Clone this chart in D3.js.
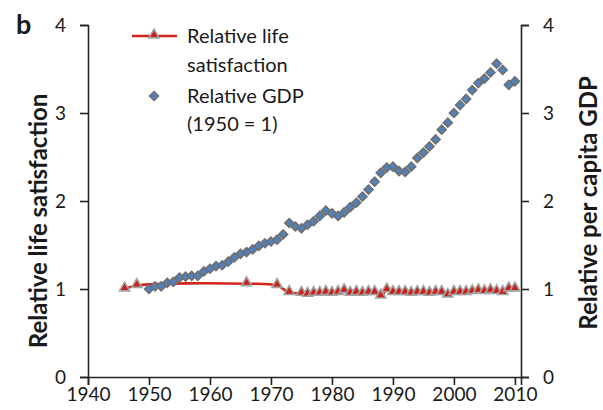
<!DOCTYPE html>
<html>
<head>
<meta charset="utf-8">
<script src="https://cdn.jsdelivr.net/npm/d3@7"></script>
<style>
  body { margin: 0; background: #fff; }
  svg text { font-family: Lato, "Open Sans", sans-serif; fill: #1a1a1a; }
</style>
</head>
<body>
<div id="chart"></div>
<script>
// life satisfaction (relative), survey years
const lifeYears = [1946, 1948, 1966, 1971, 1973,
  1975, 1976, 1977, 1978, 1979, 1980, 1981, 1982, 1983, 1984, 1985, 1986, 1987, 1988, 1989,
  1990, 1991, 1992, 1993, 1994, 1995, 1996, 1997, 1998, 1999, 2000, 2001, 2002, 2003, 2004,
  2005, 2006, 2007, 2008, 2009, 2010];
const lifeValues = [1.00, 1.04, 1.06, 1.04, 0.96,
  0.95, 0.94, 0.95, 0.95, 0.96, 0.95, 0.96, 0.98, 0.95, 0.96, 0.95, 0.96, 0.96, 0.92, 0.99,
  0.96, 0.96, 0.96, 0.95, 0.96, 0.96, 0.95, 0.96, 0.96, 0.93, 0.96, 0.96, 0.96, 0.97, 0.98,
  0.97, 0.98, 0.97, 0.96, 1.00, 1.00];

// relative per capita GDP (1950 = 1), 1950..2010
const gdpYears = d3.range(1950, 2011);
const gdpValues = [1.00, 1.03, 1.03, 1.07, 1.08, 1.13, 1.14, 1.15, 1.15, 1.20,
  1.23, 1.26, 1.27, 1.31, 1.36, 1.40, 1.42, 1.45, 1.49, 1.52,
  1.54, 1.56, 1.62, 1.75, 1.71, 1.69, 1.73, 1.77, 1.83, 1.89,
  1.86, 1.83, 1.87, 1.93, 1.98, 2.05, 2.13, 2.22, 2.32, 2.38,
  2.39, 2.34, 2.33, 2.39, 2.49, 2.55, 2.62, 2.70, 2.81, 2.89,
  3.00, 3.09, 3.16, 3.26, 3.34, 3.39, 3.46, 3.56, 3.49, 3.32, 3.36];

const xTicks = [1940, 1950, 1960, 1970, 1980, 1990, 2000, 2010];
const yTicks = [0, 1, 2, 3, 4];

const W = 603, H = 410;
const svg = d3.select("#chart").append("svg")
  .attr("width", W)
  .attr("height", H);

// scales
const x = d3.scaleLinear().domain([1940, 2011]).range([88, 521]);
const yL = d3.scaleLinear().domain([0, 4]).range([377, 25]);
const yR = d3.scaleLinear().domain([0, 4]).range([377, 25]);

// axes
const styleAxis = (g) => {
  g.select(".domain").attr("stroke", "#222").attr("stroke-width", 1.6);
  g.selectAll(".tick line").attr("stroke", "#222").attr("stroke-width", 1.6);
  g.selectAll(".tick text").style("font-size", "19px");
};

svg.append("g")
  .attr("transform", "translate(0," + yL(0) + ")")
  .call(d3.axisBottom(x).tickValues(xTicks).tickFormat(d3.format("d")).tickSizeOuter(0).tickSize(8).tickPadding(3))
  .call(styleAxis);

svg.append("g")
  .attr("transform", "translate(" + x(1940) + ",0)")
  .call(d3.axisLeft(yL).tickValues(yTicks).tickFormat(d3.format("d")).tickSizeOuter(0).tickSize(8).tickPadding(14))
  .call(styleAxis);

svg.append("g")
  .attr("transform", "translate(" + x(2011) + ",0)")
  .call(d3.axisRight(yR).tickValues(yTicks).tickFormat(d3.format("d")).tickSizeOuter(0).tickSize(8).tickPadding(14))
  .call(styleAxis);

// axis titles
svg.append("text")
  .attr("transform", "translate(39,221) rotate(-90)")
  .attr("text-anchor", "middle")
  .attr("dy", "0.35em")
  .style("font-size", "24px")
  .style("font-weight", "bold")
  .text("Relative life satisfaction");

svg.append("text")
  .attr("transform", "translate(589,203) rotate(-90)")
  .attr("text-anchor", "middle")
  .attr("dy", "0.35em")
  .style("font-size", "24px")
  .style("font-weight", "bold")
  .text("Relative per capita GDP");

svg.append("text")
  .attr("x", 16)
  .attr("y", 34)
  .style("font-size", "27px")
  .style("font-weight", "bold")
  .text("b");

// life satisfaction line + triangles
const lifeData = lifeYears.map((yr, i) => ({ yr, v: lifeValues[i] }));
const gdpData = gdpYears.map((yr, i) => ({ yr, v: gdpValues[i] }));

const line = d3.line()
  .x((d) => x(d.yr))
  .y((d) => yL(d.v))
  .curve(d3.curveCatmullRom.alpha(0.5));

svg.append("path")
  .datum(lifeData)
  .attr("fill", "none")
  .attr("stroke", "#d2261c")
  .attr("stroke-width", 2.6)
  .attr("d", line);

const tri = d3.symbol().type(d3.symbolTriangle).size(44);
const dia = d3.symbol().type(d3.symbolSquare).size(40);

svg.selectAll(".tri")
  .data(lifeData)
  .enter().append("path")
  .attr("class", "tri")
  .attr("d", tri)
  .attr("transform", (d) => "translate(" + x(d.yr) + "," + (yL(d.v) - 1) + ")")
  .attr("fill", "#c8201a")
  .attr("stroke", "#a3a3a3")
  .attr("stroke-width", 1.6);

svg.selectAll(".dia")
  .data(gdpData)
  .enter().append("path")
  .attr("class", "dia")
  .attr("d", dia)
  .attr("transform", (d) => "translate(" + x(d.yr) + "," + yR(d.v) + ") rotate(45)")
  .attr("fill", "#4f81bd")
  .attr("stroke", "#6f6f6f")
  .attr("stroke-width", 1.6);

// legend
const legend = svg.append("g").attr("class", "legend");

legend.append("line")
  .attr("x1", 132).attr("x2", 177)
  .attr("y1", 36).attr("y2", 36)
  .attr("stroke", "#d2261c")
  .attr("stroke-width", 2.6);

legend.append("path")
  .attr("d", tri)
  .attr("transform", "translate(154,35)")
  .attr("fill", "#c8201a")
  .attr("stroke", "#a3a3a3")
  .attr("stroke-width", 1.6);

legend.append("path")
  .attr("d", dia)
  .attr("transform", "translate(154,96) rotate(45)")
  .attr("fill", "#4f81bd")
  .attr("stroke", "#6f6f6f")
  .attr("stroke-width", 1.6);

const legendLines = [
  ["Relative life", 36],
  ["satisfaction", 65],
  ["Relative GDP", 96],
  ["(1950 = 1)", 124]
];

legend.selectAll(".ltext")
  .data(legendLines)
  .enter().append("text")
  .attr("class", "ltext")
  .attr("x", 187)
  .attr("y", (d) => d[1])
  .attr("dy", "0.35em")
  .style("font-size", "20px")
  .text((d) => d[0]);
</script>
</body>
</html>
